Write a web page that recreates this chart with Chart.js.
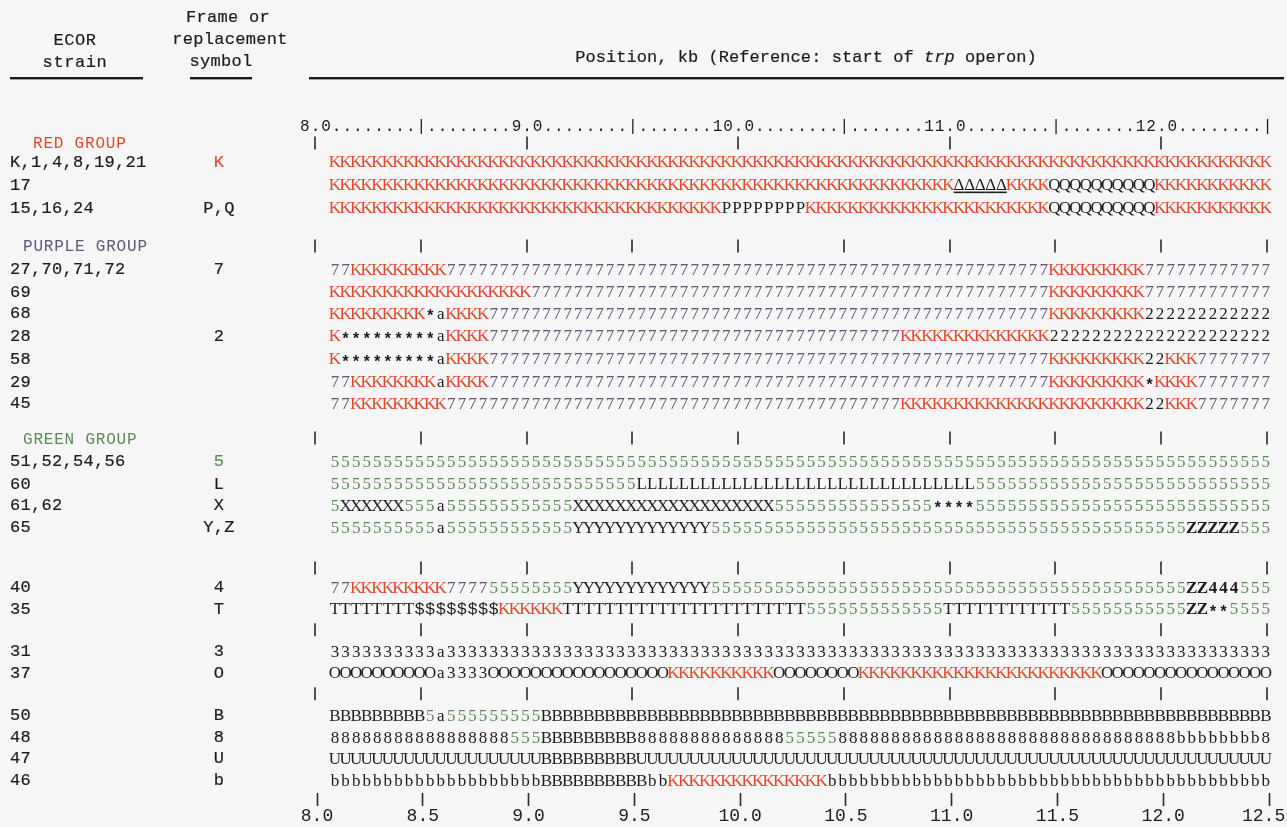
<!DOCTYPE html>
<html><head><meta charset="utf-8">
<script src="https://cdn.jsdelivr.net/npm/chart.js@4/dist/chart.umd.min.js"></script>
<style>html,body{margin:0;padding:0;background:#f6f6f6;}canvas{display:block}</style>
</head><body>
<canvas id="c" width="1287" height="827"></canvas>
<script>
// ---------------- DATA ----------------
const STRAINS = ['K,1,4,8,19,21','17','15,16,24','27,70,71,72','69','68','28','58','29','45',
  '51,52,54,56','60','61,62','65','40','35','31','37','50','48','47','46'];
const SYMBOLS = ['K','','P,Q','7','','','2','','','','5','L','X','Y,Z','4','T','3','O','B','8','U','b'];
const GROUP_NAMES = ['RED GROUP','PURPLE GROUP','GREEN GROUP'];
// sequence of 50-bp units, run-length coded "symbol:count"
const RED_ROWS = [
  'K:89',
  'K:59 Δ:5 K:4 Q:10 K:11',
  'K:37 P:8 K:23 Q:10 K:11'
];
const PURPLE_ROWS = [
  '7:2 K:9 7:57 K:9 7:12',
  'K:19 7:49 K:9 7:12',
  'K:9 *:1 a:1 K:4 7:53 K:9 2:12',
  'K:1 *:9 a:1 K:4 7:39 K:14 2:21',
  'K:1 *:9 a:1 K:4 7:53 K:9 2:2 K:3 7:7',
  '7:2 K:8 a:1 K:4 7:53 K:9 *:1 K:4 7:7',
  '7:2 K:9 7:43 K:23 2:2 K:3 7:7'
];
const GREEN_ROWS = [
  '5:89',
  '5:29 L:32 5:28',
  '5:1 X:6 5:3 a:1 5:12 X:19 5:15 *:4 5:28',
  '5:10 a:1 5:12 Y:13 5:45 Z:5 5:3'
];
const OTHER_ROWS = [
  '7:2 K:9 7:4 5:8 Y:13 5:45 Z:2 4:3 5:3',
  'T:8 $:8 K:6 T:23 5:13 T:12 5:11 Z:2 *:2 5:4',
  '3:10 a:1 3:78',
  'O:10 a:1 3:4 O:17 K:10 O:8 K:23 O:16',
  'B:9 5:1 a:1 5:9 B:69',
  '8:17 5:3 B:9 8:14 5:5 8:32 b:8 8:1',
  'U:20 B:9 U:60',
  'b:20 B:10 b:2 K:15 b:42'
];
const START_KB = 8.06;      // start of first 50-bp unit
const KB_PER_UNIT = 0.05;
const X_TICK_VALUES = [8.0,8.5,9.0,9.5,10.0,10.5,11.0,11.5,12.0,12.5];
const X_TICK_LABELS = ['8.0','8.5','9.0','9.5','10.0','10.5','11.0','11.5','12.0','12.5 '];
const TOP_SCALE = '8.0........|........9.0........|.......10.0........|.......11.0........|.......12.0........|';

// ---------------- LAYOUT (line units of the y scale) ----------------
const ROW_LINE = [3.32,4.38,5.44, 8.29,9.31,10.32,11.34,12.40,13.46,14.47,
  17.14,18.16,19.17,20.18, 22.95,23.92, 25.90,26.87, 28.85,29.86,30.83,31.84];
const GROUP_LINE = [2.49,7.24,16.13];
const GROUP_X = [33,23,23];
const TICKROW_LINE = [7.19,16.04,22.03,24.88,27.83];
const TOPTICK_LINE = 2.44, TOPSCALE_LINE = 1.71;

const RED='#e2472d', PURPLE='#625675', GREEN='#5c8b58', INK='#1c1c1c';
const MONO='"Liberation Mono", "DejaVu Sans Mono", monospace';
const SERIF='"Liberation Serif", "DejaVu Serif", serif';

function expand(rle){const out=[];rle.split(' ').forEach(t=>{const k=t.lastIndexOf(':');const c=t.slice(0,k),n=+t.slice(k+1);for(let i=0;i<n;i++)out.push(c);});return out;}
const ROW_RUNS = [...RED_ROWS,...PURPLE_ROWS,...GREEN_ROWS,...OTHER_ROWS];
const ROW_CHARS = ROW_RUNS.map(expand);
function colorOf(c){return c==='K'?RED:c==='7'?PURPLE:c==='5'?GREEN:INK;}

const datasets = ROW_CHARS.map((chars,r)=>({
  label: STRAINS[r],
  data: chars.map((c,i)=>({x: START_KB+(i+0.5)*KB_PER_UNIT, y: ROW_LINE[r]})),
  pointRadius:0, showLine:false
}));

function monoText(ctx,str,x,y,align,color,size,spacing,italic,weight){
  const lw=(weight===undefined?0.2:weight);
  ctx.save();ctx.font=`${italic?'italic ':''}${size||17}px ${MONO}`;ctx.fillStyle=color||INK;ctx.strokeStyle=color||INK;
  ctx.textBaseline='middle';
  try{ctx.letterSpacing=(spacing===undefined?0.3:spacing)+'px';}catch(e){}
  let w=ctx.measureText(str).width;
  let sx = align==='center'? x-w/2 : x;
  ctx.textAlign='left';ctx.fillText(str,sx,y);
  if(lw>0.01){ctx.lineWidth=lw;ctx.strokeText(str,sx,y);}
  ctx.restore();return w;
}
function measureMono(ctx,str,size,spacing,italic){
  ctx.save();ctx.font=`${italic?'italic ':''}${size}px ${MONO}`;try{ctx.letterSpacing=spacing+'px';}catch(e){}
  const w=ctx.measureText(str).width;ctx.restore();return w;
}

const textPlugin = {
  id:'seqText',
  afterDatasetsDraw(chart){
    const ctx=chart.ctx, xs=chart.scales.x, ys=chart.scales.y;
    // header
    monoText(ctx,'ECOR',75,40,'center',INK,17,0.6);
    monoText(ctx,'strain',75,62,'center',INK,17,0.6);
    monoText(ctx,'Frame or',228,17,'center',INK,17,0.3);
    monoText(ctx,'replacement',230,39,'center',INK,17,0.3);
    monoText(ctx,'symbol',221,61,'center',INK,17,0.3);
    const p1='Position, kb (Reference: start of ', p2='trp', p3=' operon)';
    const w1=measureMono(ctx,p1,17,0.05), w2=measureMono(ctx,p2,17,0.05,true), w3=measureMono(ctx,p3,17,0.05);
    let sx=806-(w1+w2+w3)/2;
    monoText(ctx,p1,sx,57,'left',INK,17,0.05);
    monoText(ctx,p2,sx+w1,57,'left',INK,17,0.05,true);
    monoText(ctx,p3,sx+w1+w2,57,'left',INK,17,0.05);
    ctx.save();ctx.fillStyle=INK;
    ctx.fillRect(10,77,133,2.4);ctx.fillRect(190,77,62,2.4);ctx.fillRect(309,77,975,2.4);
    ctx.restore();

    // top scale string
    ctx.save();ctx.font=`16px ${MONO}`;ctx.fillStyle=INK;ctx.textAlign='center';ctx.textBaseline='middle';
    const ty=ys.getPixelForValue(TOPSCALE_LINE);
    for(let k=0;k<TOP_SCALE.length;k++){ctx.fillText(TOP_SCALE[k],xs.getPixelForValue(8.0+(k-1)*KB_PER_UNIT)-1.5,ty);}
    ctx.restore();

    // tick rows
    ctx.save();ctx.strokeStyle='#2a2a2a';ctx.lineWidth=1.6;
    const tick=(v,line)=>{const x=Math.round(xs.getPixelForValue(v))-2,y=ys.getPixelForValue(line);ctx.beginPath();ctx.moveTo(x,y-6.5);ctx.lineTo(x,y+6.5);ctx.stroke();};
    X_TICK_VALUES.forEach(v=>{ if(Math.abs(v-Math.round(v))<1e-9) tick(v,TOPTICK_LINE); });
    TICKROW_LINE.forEach(l=>X_TICK_VALUES.forEach(v=>tick(v,l)));
    ctx.restore();

    // group labels
    GROUP_NAMES.forEach((g,i)=>{monoText(ctx,g,GROUP_X[i],ys.getPixelForValue(GROUP_LINE[i]),'left',[RED,PURPLE,GREEN][i],16,0.8,false,0);});

    // strain & symbol labels
    STRAINS.forEach((s,r)=>{const y=ys.getPixelForValue(ROW_LINE[r]);
      monoText(ctx,s,10,y,'left',INK,17,0.3);
      if(SYMBOLS[r]) monoText(ctx,SYMBOLS[r],219,y,'center',SYMBOLS[r]==='K'?RED:SYMBOLS[r]==='5'?GREEN:INK,17,0.3);
    });

    // sequence characters, positioned by the dataset points
    ctx.save();ctx.textAlign='center';ctx.textBaseline='middle';
    chart.data.datasets.forEach((ds,r)=>{
      const meta=chart.getDatasetMeta(r);const chars=ROW_CHARS[r];
      meta.data.forEach((pt,i)=>{
        const c=chars[i];
        const bold=(c==='Z'||c==='4');
        ctx.font=`${bold?'bold ':''}17px ${SERIF}`;
        ctx.fillStyle=colorOf(c);
        let y=pt.y;
        if(c==='*'){ctx.font=`bold 16px ${MONO}`;y+=3;}
        if(c==='$'){ctx.font=`17px ${MONO}`;}
        ctx.fillText(c,pt.x,y+0.5);
        if(c==='Δ'){
          const half=(xs.getPixelForValue(KB_PER_UNIT*2)-xs.getPixelForValue(KB_PER_UNIT))/2;
          ctx.fillRect(pt.x-half,pt.y+6.5,half*2,1.6);
        }
      });
    });
    ctx.restore();
  }
};

new Chart(document.getElementById('c'),{
  type:'scatter',
  data:{datasets},
  options:{
    responsive:false, animation:false, events:[],
    layout:{padding:{left:317,right:18,top:90,bottom:0}},
    plugins:{legend:{display:false},tooltip:{enabled:false},title:{display:false}},
    scales:{
      x:{type:'linear',position:'bottom',min:8,max:12.5,
        afterBuildTicks:(s)=>{s.ticks=X_TICK_VALUES.map(v=>({value:v}));},
        afterFit:(s)=>{s.height=34;s.paddingLeft=0;s.paddingRight=0;},
        ticks:{autoSkip:false,maxRotation:0,minRotation:0,padding:-1,color:INK,
          font:{family:'Liberation Mono',size:18},
          callback:(v,i)=>X_TICK_LABELS[i]},
        grid:{drawOnChartArea:false,drawTicks:true,tickLength:13,tickWidth:1.6,tickColor:'#2a2a2a'},
        border:{display:false}},
      y:{type:'linear',display:false,reverse:true,min:0,max:32.4}
    }
  },
  plugins:[textPlugin]
});
</script>
</body></html>
